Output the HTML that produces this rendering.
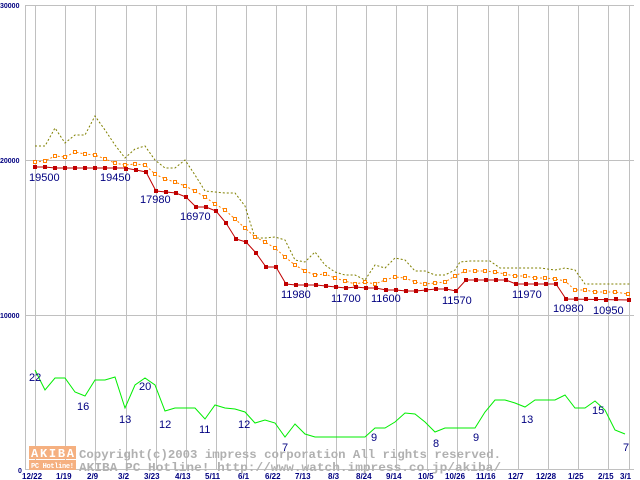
<!DOCTYPE html>
<html><head><style>body{margin:0;background:#fff}svg{display:block}</style></head><body>
<svg width="640" height="480" xmlns="http://www.w3.org/2000/svg" font-family="Liberation Sans, sans-serif">
<rect width="640" height="480" fill="#fff"/>
<g stroke="#c0c0c0" stroke-width="1">
<line x1="25" y1="5.5" x2="634" y2="5.5"/><line x1="25" y1="160.5" x2="634" y2="160.5"/><line x1="25" y1="315.5" x2="634" y2="315.5"/><line x1="25" y1="469.5" x2="634" y2="469.5"/>
<line x1="35.5" y1="5" x2="35.5" y2="470"/><line x1="65.5" y1="5" x2="65.5" y2="470"/><line x1="95.5" y1="5" x2="95.5" y2="470"/><line x1="126.5" y1="5" x2="126.5" y2="470"/><line x1="156.5" y1="5" x2="156.5" y2="470"/><line x1="186.5" y1="5" x2="186.5" y2="470"/><line x1="216.5" y1="5" x2="216.5" y2="470"/><line x1="246.5" y1="5" x2="246.5" y2="470"/><line x1="276.5" y1="5" x2="276.5" y2="470"/><line x1="306.5" y1="5" x2="306.5" y2="470"/><line x1="336.5" y1="5" x2="336.5" y2="470"/><line x1="366.5" y1="5" x2="366.5" y2="470"/><line x1="396.5" y1="5" x2="396.5" y2="470"/><line x1="427.5" y1="5" x2="427.5" y2="470"/><line x1="457.5" y1="5" x2="457.5" y2="470"/><line x1="488.5" y1="5" x2="488.5" y2="470"/><line x1="518.5" y1="5" x2="518.5" y2="470"/><line x1="548.5" y1="5" x2="548.5" y2="470"/><line x1="578.5" y1="5" x2="578.5" y2="470"/><line x1="608.5" y1="5" x2="608.5" y2="470"/><line x1="629.5" y1="5" x2="629.5" y2="470"/>
<line x1="25.5" y1="5" x2="25.5" y2="470"/>
</g>
<g font-size="7" fill="#000080" font-weight="bold">
<text x="0" y="8">30000</text><text x="0" y="163">20000</text><text x="0" y="318">10000</text><text x="18" y="473">0</text>
</g>
<g font-size="8" fill="#000080" font-weight="bold">
<text x="22" y="479">12/22</text><text x="56" y="479">1/19</text><text x="87" y="479">2/9</text><text x="118" y="479">3/2</text><text x="144" y="479">3/23</text><text x="175" y="479">4/13</text><text x="205" y="479">5/11</text><text x="238" y="479">6/1</text><text x="265" y="479">6/22</text><text x="295" y="479">7/13</text><text x="328" y="479">8/3</text><text x="356" y="479">8/24</text><text x="386" y="479">9/14</text><text x="418" y="479">10/5</text><text x="445" y="479">10/26</text><text x="476" y="479">11/16</text><text x="508" y="479">12/7</text><text x="536" y="479">12/28</text><text x="568" y="479">1/25</text><text x="598" y="479">2/15</text><text x="620" y="479">3/1</text>
</g>
<g fill="#b0b0b0" font-family="Liberation Mono, monospace" font-weight="bold">
<rect x="29" y="446" width="47" height="13" fill="#f5b080"/><rect x="29" y="460" width="47" height="10" fill="#f5b080"/>
<text x="31" y="457" fill="#fff" font-size="12" textLength="43">AKIBA</text><text x="31" y="468" fill="#fff" font-size="7" textLength="43">PC Hotline!</text>
<text x="79" y="458" font-size="12" textLength="422" lengthAdjust="spacingAndGlyphs">Copyright(c)2003 impress corporation All rights reserved.</text>
<text x="79" y="471" font-size="12" textLength="422" lengthAdjust="spacingAndGlyphs">AKIBA PC Hotline!  http://www.watch.impress.co.jp/akiba/</text>
</g>
<polyline fill="none" stroke="#808000" stroke-width="1" stroke-dasharray="2,2" points="35,146 45,146 55,128 65,143 75,135 85,135 95,116 105,130 115,145 125,158 135,149 145,146 155,160 165,168 175,168 185,160 195,175 205,191 215,192 225,193 235,193 245,206 255,238 265,238 275,237 285,240 295,260 305,262 315,252 325,265 335,272 345,275 355,275 365,280 375,265 385,268 395,258 405,260 415,271 425,271 435,275 445,275 455,270 460,262 470,261 490,261 500,268 540,268 555,270 565,268 575,270 585,284 630,284"/>
<polyline id="or" fill="none" stroke="#ff8000" stroke-width="1" stroke-dasharray="2,2" points="35,162 45,161 55,156 65,157 75,152 85,154 95,155 105,159 115,163 125,165 135,164 145,165 155,174 165,179 175,182 185,186 195,191 205,197 215,204 225,210 235,219 245,228 255,237 265,242 275,248 285,257 295,265 305,271 315,275 325,274 335,278 345,281 355,284 365,282 375,284 385,280 395,277 405,278 415,282 425,284 435,283 445,282 455,276 465,271 475,271 485,271 495,272 505,274 515,276 525,276 535,278 545,278 555,279 565,281 575,290 585,290 595,292 605,292 615,292 628,294"/>
<g fill="#fff" stroke="#ff8000" stroke-width="1">
<rect x="33.5" y="160.5" width="3" height="3"/><rect x="43.5" y="159.5" width="3" height="3"/><rect x="53.5" y="154.5" width="3" height="3"/><rect x="63.5" y="155.5" width="3" height="3"/><rect x="73.5" y="150.5" width="3" height="3"/><rect x="83.5" y="152.5" width="3" height="3"/><rect x="93.5" y="153.5" width="3" height="3"/><rect x="103.5" y="157.5" width="3" height="3"/><rect x="113.5" y="161.5" width="3" height="3"/><rect x="123.5" y="163.5" width="3" height="3"/><rect x="133.5" y="162.5" width="3" height="3"/><rect x="143.5" y="163.5" width="3" height="3"/><rect x="153.5" y="172.5" width="3" height="3"/><rect x="163.5" y="177.5" width="3" height="3"/><rect x="173.5" y="180.5" width="3" height="3"/><rect x="183.5" y="184.5" width="3" height="3"/><rect x="193.5" y="189.5" width="3" height="3"/><rect x="203.5" y="195.5" width="3" height="3"/><rect x="213.5" y="202.5" width="3" height="3"/><rect x="223.5" y="208.5" width="3" height="3"/><rect x="233.5" y="217.5" width="3" height="3"/><rect x="243.5" y="226.5" width="3" height="3"/><rect x="253.5" y="235.5" width="3" height="3"/><rect x="263.5" y="240.5" width="3" height="3"/><rect x="273.5" y="246.5" width="3" height="3"/><rect x="283.5" y="255.5" width="3" height="3"/><rect x="293.5" y="263.5" width="3" height="3"/><rect x="303.5" y="269.5" width="3" height="3"/><rect x="313.5" y="273.5" width="3" height="3"/><rect x="323.5" y="272.5" width="3" height="3"/><rect x="333.5" y="276.5" width="3" height="3"/><rect x="343.5" y="279.5" width="3" height="3"/><rect x="353.5" y="282.5" width="3" height="3"/><rect x="363.5" y="280.5" width="3" height="3"/><rect x="373.5" y="282.5" width="3" height="3"/><rect x="383.5" y="278.5" width="3" height="3"/><rect x="393.5" y="275.5" width="3" height="3"/><rect x="403.5" y="276.5" width="3" height="3"/><rect x="413.5" y="280.5" width="3" height="3"/><rect x="423.5" y="282.5" width="3" height="3"/><rect x="433.5" y="281.5" width="3" height="3"/><rect x="443.5" y="280.5" width="3" height="3"/><rect x="453.5" y="274.5" width="3" height="3"/><rect x="463.5" y="269.5" width="3" height="3"/><rect x="473.5" y="269.5" width="3" height="3"/><rect x="483.5" y="269.5" width="3" height="3"/><rect x="493.5" y="270.5" width="3" height="3"/><rect x="503.5" y="272.5" width="3" height="3"/><rect x="513.5" y="274.5" width="3" height="3"/><rect x="523.5" y="274.5" width="3" height="3"/><rect x="533.5" y="276.5" width="3" height="3"/><rect x="543.5" y="276.5" width="3" height="3"/><rect x="553.5" y="277.5" width="3" height="3"/><rect x="563.5" y="279.5" width="3" height="3"/><rect x="573.5" y="288.5" width="3" height="3"/><rect x="583.5" y="288.5" width="3" height="3"/><rect x="593.5" y="290.5" width="3" height="3"/><rect x="603.5" y="290.5" width="3" height="3"/><rect x="613.5" y="290.5" width="3" height="3"/><rect x="626.5" y="292.5" width="3" height="3"/>
</g>
<polyline fill="none" stroke="#c00000" stroke-width="1" points="35,167 45,167 55,168 125,168 136,170 146,172 156,191 166,192 176,193 186,197 196,207 206,207 216,211 226,223 236,239 246,242 256,253 266,267 276,267 286,284 296,285 306,285 316,285 326,286 336,287 346,288 356,287 366,288 376,288 386,290 396,290 406,291 416,291 426,290 436,289 446,289 456,291 466,280 506,280 516,284 556,284 566,299 630,300"/>
<g fill="#c00000">
<rect x="33" y="165" width="4" height="4"/><rect x="43" y="165" width="4" height="4"/><rect x="53" y="166" width="4" height="4"/><rect x="63" y="166" width="4" height="4"/><rect x="73" y="166" width="4" height="4"/><rect x="83" y="166" width="4" height="4"/><rect x="93" y="166" width="4" height="4"/><rect x="103" y="166" width="4" height="4"/><rect x="113" y="166" width="4" height="4"/><rect x="124" y="167" width="4" height="4"/><rect x="134" y="168" width="4" height="4"/><rect x="144" y="170" width="4" height="4"/><rect x="154" y="189" width="4" height="4"/><rect x="164" y="190" width="4" height="4"/><rect x="174" y="191" width="4" height="4"/><rect x="184" y="195" width="4" height="4"/><rect x="194" y="205" width="4" height="4"/><rect x="204" y="205" width="4" height="4"/><rect x="214" y="209" width="4" height="4"/><rect x="224" y="221" width="4" height="4"/><rect x="234" y="237" width="4" height="4"/><rect x="244" y="240" width="4" height="4"/><rect x="254" y="251" width="4" height="4"/><rect x="264" y="265" width="4" height="4"/><rect x="274" y="265" width="4" height="4"/><rect x="284" y="282" width="4" height="4"/><rect x="294" y="283" width="4" height="4"/><rect x="304" y="283" width="4" height="4"/><rect x="314" y="283" width="4" height="4"/><rect x="324" y="284" width="4" height="4"/><rect x="334" y="285" width="4" height="4"/><rect x="344" y="286" width="4" height="4"/><rect x="354" y="285" width="4" height="4"/><rect x="364" y="286" width="4" height="4"/><rect x="374" y="286" width="4" height="4"/><rect x="384" y="288" width="4" height="4"/><rect x="394" y="288" width="4" height="4"/><rect x="404" y="289" width="4" height="4"/><rect x="414" y="289" width="4" height="4"/><rect x="424" y="288" width="4" height="4"/><rect x="434" y="287" width="4" height="4"/><rect x="444" y="287" width="4" height="4"/><rect x="454" y="289" width="4" height="4"/><rect x="464" y="278" width="4" height="4"/><rect x="474" y="278" width="4" height="4"/><rect x="484" y="278" width="4" height="4"/><rect x="494" y="278" width="4" height="4"/><rect x="504" y="278" width="4" height="4"/><rect x="514" y="282" width="4" height="4"/><rect x="524" y="282" width="4" height="4"/><rect x="534" y="282" width="4" height="4"/><rect x="544" y="282" width="4" height="4"/><rect x="554" y="282" width="4" height="4"/><rect x="564" y="297" width="4" height="4"/><rect x="574" y="297" width="4" height="4"/><rect x="584" y="297" width="4" height="4"/><rect x="594" y="297" width="4" height="4"/><rect x="604" y="298" width="4" height="4"/><rect x="614" y="297" width="4" height="4"/><rect x="627" y="298" width="4" height="4"/>
</g>
<polyline fill="none" stroke="#00ee00" stroke-width="1" points="35,370 45,390 55,378 65,378 75,392 85,396 95,380 105,380 115,377 125,408 135,385 145,378 155,385 165,411 175,408 185,408 195,408 205,419 215,405 225,408 235,409 245,412 255,423 265,420 275,423 285,437 295,424 305,434 315,437 365,437 375,428 385,428 395,422 405,413 415,414 425,422 435,432 445,428 475,428 485,412 495,400 505,400 515,403 525,407 535,400 555,400 565,395 575,408 585,408 595,401 605,410 615,430 625,434"/>
<g font-size="11" fill="#000080">
<text x="29" y="381">22</text><text x="77" y="410">16</text><text x="119" y="423">13</text><text x="139" y="390">20</text><text x="159" y="428">12</text><text x="199" y="433">11</text><text x="238" y="428">12</text><text x="282" y="451">7</text><text x="371" y="441">9</text><text x="433" y="447">8</text><text x="473" y="441">9</text><text x="521" y="423">13</text><text x="592" y="414">15</text><text x="623" y="451">7</text>
<text x="29" y="181">19500</text><text x="100" y="181">19450</text><text x="140" y="203">17980</text><text x="180" y="220">16970</text><text x="281" y="298">11980</text><text x="331" y="302">11700</text><text x="371" y="302">11600</text><text x="442" y="304">11570</text><text x="512" y="298">11970</text><text x="553" y="312">10980</text><text x="593" y="314">10950</text>
</g>
</svg>
</body></html>
